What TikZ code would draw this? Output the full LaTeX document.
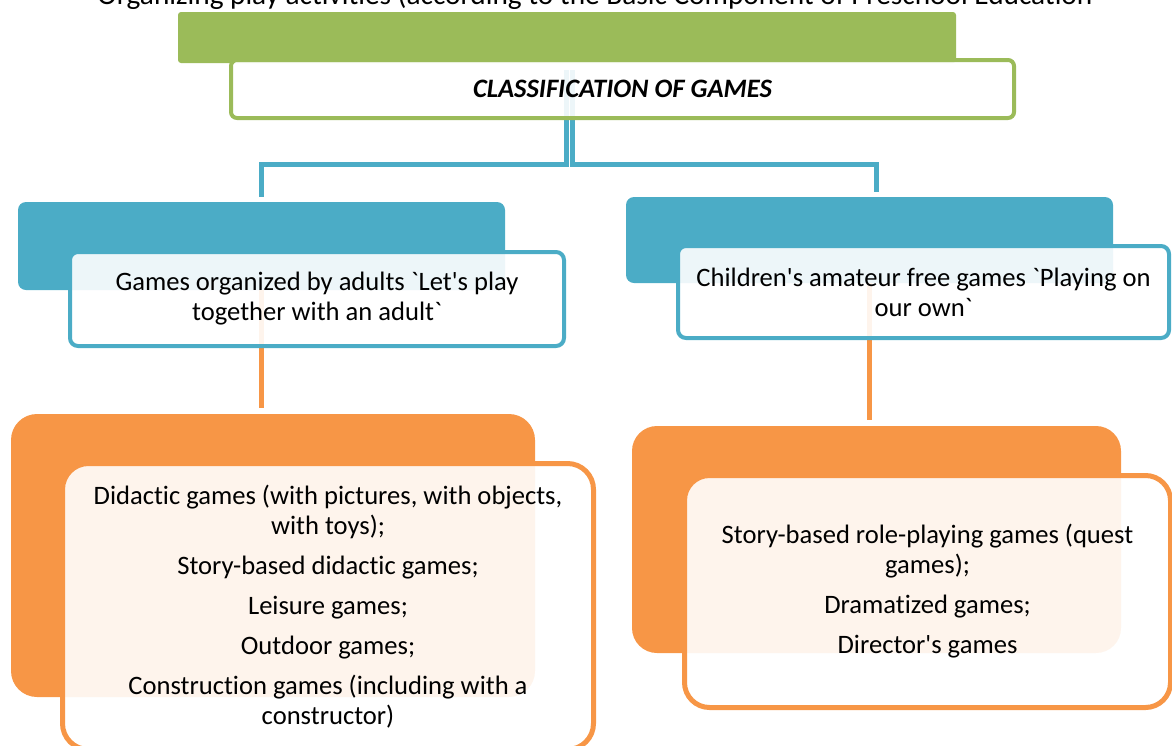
\documentclass[tikz,border=0pt]{standalone}
\usepackage{fontspec}
\setmainfont{Carlito}[Ligatures={TeXOff,CommonOff}]
\definecolor{leaf}{HTML}{9BBB59}
\definecolor{sea}{HTML}{4BACC6}
\definecolor{tang}{HTML}{F79646}
\newcommand\gamesfont{\fontsize{26.6}{30}\selectfont}
\newcommand\headfont{\fontsize{26.6}{30}\selectfont\bfseries\itshape}
\newcommand\capfont{\fontsize{29.3}{34}\selectfont}
\begin{document}
\begin{tikzpicture}[x=1pt,y=-1pt,
  shade/.style={fill=#1, draw=none, inner sep=0pt, outer sep=0pt},
  card/.style={draw=#1, fill=white, fill opacity=0.9, text opacity=1,
    inner sep=0pt, outer sep=0pt, align=center, font=\gamesfont},
  con/.style={draw=#1, line width=5pt, line join=miter}]
\useasboundingbox (0,0) rectangle (1172,745);
\clip (0,0) rectangle (1172,745);

% caption line running off the top edge
\node[anchor=base, inner sep=0pt, font=\capfont] (caption) at (595,4)
  {Organizing play activities (according to the Basic Component of Preschool Education};

% coloured backing panels
\node[shade=leaf, rounded corners=3pt, minimum width=778pt, minimum height=51pt] (gfill) at (567,37.5) {};
\node[shade=sea, rounded corners=8pt, minimum width=487pt, minimum height=88pt] (bfillL) at (261.5,246) {};
\node[shade=sea, rounded corners=8pt, minimum width=487pt, minimum height=86pt] (bfillR) at (869.5,240) {};
\node[shade=tang, rounded corners=26pt, minimum width=524pt, minimum height=283pt] (ofillL) at (273,555.5) {};
\node[shade=tang, rounded corners=25pt, minimum width=489pt, minimum height=227pt] (ofillR) at (876.5,539.5) {};

% connectors
\coordinate (hub) at (567,164);
\draw[con=sea, shorten >=5pt] ([xshift=-1pt,yshift=-7pt]gfill.south) -- ([xshift=-1pt]gfill.south |- hub) -| (bfillL.north);
\draw[con=sea, shorten >=5pt] ([xshift=5pt,yshift=-7pt]gfill.south) -- ([xshift=5pt]gfill.south |- hub) -| ([xshift=6.5pt]bfillR.north);
\draw[con=tang, line width=4.5pt] (bfillL.south) -- ([yshift=6pt]bfillL.south |- ofillL.north);
\draw[con=tang, line width=4.5pt] (bfillR.south) -- ([yshift=6pt]bfillR.south |- ofillR.north);

% text cards
\node[card=leaf, line width=4pt, rounded corners=6pt, minimum width=783pt, minimum height=58pt, font=\headfont] (title) at (622.5,89)
  {CLASSIFICATION OF GAMES};
\node[card=sea, line width=4pt, rounded corners=8pt, minimum width=494pt, minimum height=94pt] (adult) at (317,299)
  {Games organized by adults `Let's play\\together with an adult`};
\node[card=sea, line width=4pt, rounded corners=8pt, minimum width=491pt, minimum height=92pt] (own) at (923.5,292)
  {Children's amateur free games `Playing on\\our own`};
\node[card=tang, line width=5pt, rounded corners=26pt, minimum width=531pt, minimum height=286pt] (adultlist) at (328,606.5)
  {Didactic games (with pictures, with objects,\\with toys);\\[10pt]
   Story-based didactic games;\\[10pt]
   Leisure games;\\[10pt]
   Outdoor games;\\[10pt]
   Construction games (including with a\\constructor)};
\node[card=tang, line width=5pt, rounded corners=25pt, minimum width=486pt, minimum height=232pt] (ownlist) at (927.5,591.5)
  {Story-based role-playing games (quest\\games);\\[10pt]
   Dramatized games;\\[10pt]
   Director's games};
\end{tikzpicture}
\end{document}
